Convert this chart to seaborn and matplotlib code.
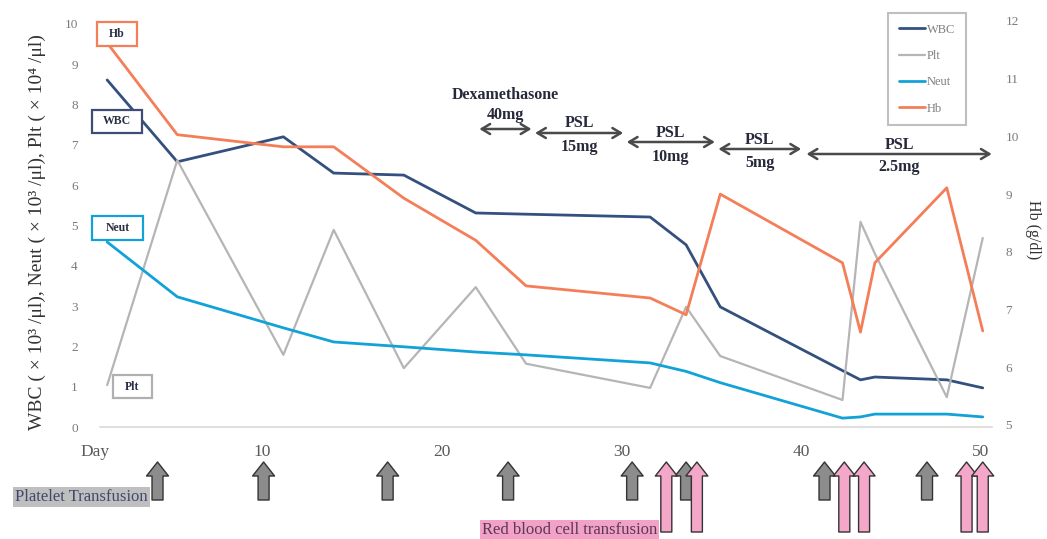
import matplotlib
matplotlib.use("Agg")
import matplotlib.pyplot as plt
import matplotlib.transforms as mtransforms
from matplotlib.patches import Rectangle
import pandas as pd
import seaborn as sns

# ---------------- data ----------------
days = [1.4, 5.3, 11.2, 14.0, 17.9, 21.9, 24.7, 31.6, 33.6, 35.5, 42.3, 43.3, 44.1, 48.1, 50.1]
wbc = [8.61, 6.58, 7.20, 6.30, 6.25, 5.31, 5.28, 5.21, 4.52, 2.98, 1.40, 1.17, 1.24, 1.17, 0.97]
plt_vals = [1.04, 6.62, 1.79, 4.89, 1.46, 3.47, 1.57, 0.97, 2.98, 1.76, 0.67, 5.09, 4.30, 0.74, 4.69]
neut = [4.59, 3.23, 2.46, 2.11, 1.99, 1.86, 1.79, 1.59, 1.38, 1.10, 0.22, 0.25, 0.32, 0.32, 0.25]
hb = [11.62, 10.03, 9.82, 9.82, 8.93, 8.20, 7.41, 7.20, 6.91, 9.00, 7.81, 6.61, 7.81, 9.11, 6.63]

series_names = ["WBC", "Plt", "Neut", "Hb"]
series_colors = ["#34507F", "#B5B5B5", "#12A2D8", "#F47E58"]

x_ticks = [0.7, 10, 20, 30, 40, 50]
x_ticklabels = ["Day", "10", "20", "30", "40", "50"]
left_ticks = list(range(0, 11))
right_ticks = list(range(5, 13))

platelet_tx_days = [4.2, 10.1, 17.0, 23.7, 30.6, 33.6, 41.3, 47.0]
rbc_tx_days = [32.5, 34.2, 42.4, 43.5, 49.2, 50.1]

drug_start = [22.1, 25.2, 30.3, 35.4, 40.3]
drug_end = [25.0, 30.1, 35.2, 40.0, 50.6]
drug_top = ["Dexamethasone", "PSL", "PSL", "PSL", "PSL"]
drug_dose = ["40mg", "15mg", "10mg", "5mg", "2.5mg"]

# ---------------- style ----------------
sns.set_theme(style="white")
plt.rcParams["font.family"] = ["Liberation Serif", "DejaVu Serif"]

W, H = 1047, 539
fig = plt.figure(figsize=(W / 100, H / 100), dpi=100)
fig.patch.set_facecolor("white")

ax = fig.add_axes([82 / W, (H - 427) / H, 918 / W, 423.2 / H])
ax2 = ax.twinx()

pix = mtransforms.Affine2D().scale(1 / W, -1 / H).translate(0, 1) + fig.transFigure
xblend = mtransforms.blended_transform_factory(ax.transData, pix)

df = pd.DataFrame({"day": days, "WBC": wbc, "Plt": plt_vals, "Neut": neut, "Hb": hb})

lw = {"WBC": 2.0, "Plt": 1.6, "Neut": 2.0, "Hb": 2.0}
handles = []
for name, col in zip(series_names, series_colors):
    target = ax2 if name == "Hb" else ax
    sns.lineplot(data=df, x="day", y=name, ax=target, color=col, lw=lw[name],
                 sort=False, legend=False, label=name)
    handles.append(target.get_lines()[-1])

ax.set_xlim(0, 51.06)
ax.set_ylim(0, 10.5)
ax2.set_ylim(4.965, 12.298)

ax.set_xticks(x_ticks)
ax.set_xticklabels(x_ticklabels)
ax.set_yticks(left_ticks)
ax2.set_yticks(right_ticks)
ax.set_xlabel("")
ax.set_ylabel("")
ax2.set_ylabel("")

ax.tick_params(axis="x", length=0, pad=12, labelsize=12.5, labelcolor="#595959")
ax.tick_params(axis="y", length=0, pad=3, labelsize=9.5, labelcolor="#7A7A7A")
ax2.tick_params(axis="y", length=0, pad=4, labelsize=9.5, labelcolor="#7A7A7A")

for a in (ax, ax2):
    for s in ("top", "right", "left", "bottom"):
        a.spines[s].set_visible(False)
    a.grid(False)
    a.patch.set_visible(False)
ax.spines["bottom"].set_visible(True)
ax.spines["bottom"].set_color("#D9D9D9")
ax.spines["bottom"].set_linewidth(1.2)
ax.spines["bottom"].set_bounds(1.0, 50.6)

# axis titles
fig.text(37 / W, 1 - 232 / H, "WBC ( × 10³ /μl), Neut ( × 10³ /μl), Plt ( × 10⁴ /μl)",
         rotation=90, ha="center", va="center", fontsize=14, color="#333333")
fig.text(1033 / W, 1 - 230 / H, "Hb (g/dl)", rotation=270, ha="center", va="center",
         fontsize=11.5, color="#333333")

# series label boxes
box_specs = {"Hb": (97, 22, 40, 24), "WBC": (92, 110, 50, 23),
             "Neut": (92, 216, 51, 24), "Plt": (113, 375, 39, 23)}
box_edge = {"WBC": "#3F4C75", "Plt": "#B0B0B0", "Neut": "#12A2D8", "Hb": "#F47E58"}
for name, (bx, by, bw, bh) in box_specs.items():
    fig.patches.append(Rectangle((bx, by), bw, bh, transform=pix, facecolor="white",
                                 edgecolor=box_edge[name], lw=1.6, zorder=5))
    fig.text(bx + bw / 2, by + bh / 2, name, transform=pix, ha="center", va="center",
             fontsize=8.5, fontweight="bold", color="#2A3045", zorder=6)

# legend
leg = fig.legend(handles, series_names, loc="upper left",
                 bbox_to_anchor=(888 / W, 1 - 13 / H), bbox_transform=fig.transFigure,
                 frameon=True, fancybox=False, edgecolor="#BFBFBF", framealpha=1,
                 fontsize=9, labelcolor="#7F7F7F", handlelength=2.1, handletextpad=0.15,
                 labelspacing=1.15, borderpad=0.85, borderaxespad=0)
leg.get_frame().set_linewidth(1.5)

# drug periods
arrow_y = [129, 133, 142, 149, 154]
top_y = [95, 123, 133, 140, 145]
dose_y = [115, 147, 157, 163, 167]
for s, e, t, d, ay, ty, dy in zip(drug_start, drug_end, drug_top, drug_dose, arrow_y, top_y, dose_y):
    ax.annotate("", xy=(e, ay), xytext=(s, ay), xycoords=xblend, textcoords=xblend,
                annotation_clip=False,
                arrowprops=dict(arrowstyle="<->,head_length=0.5,head_width=0.3",
                                color="#4A4A4A", lw=1.8, mutation_scale=12,
                                shrinkA=0, shrinkB=0))
    cx = (s + e) / 2
    ax.text(cx, ty, t, transform=xblend, ha="center", va="center", fontsize=11.5,
            fontweight="bold", color="#27293A", clip_on=False)
    ax.text(cx, dy, d, transform=xblend, ha="center", va="center", fontsize=11.5,
            fontweight="bold", color="#27293A", clip_on=False)

# transfusion arrows
def block_arrow(day, top, bottom, fc):
    ax.annotate("", xy=(day, top), xytext=(day, bottom), xycoords=xblend, textcoords=xblend,
                annotation_clip=False,
                arrowprops=dict(arrowstyle="simple,head_length=1.4,head_width=2.2,tail_width=1.1",
                                mutation_scale=7.2, fc=fc, ec="#333333", lw=1.0,
                                shrinkA=0, shrinkB=0))

for d in platelet_tx_days:
    block_arrow(d, 462, 500, "#8C8C8C")
for d in rbc_tx_days:
    block_arrow(d, 462, 532, "#F4A7C9")

fig.text(15 / W, 1 - 497 / H, "Platelet Transfusion", ha="left", va="center", fontsize=12,
         color="#3F4A6B", bbox=dict(boxstyle="square,pad=0.12", fc="#BFBFBF", ec="none"))
fig.text(482 / W, 1 - 530 / H, "Red blood cell transfusion", ha="left", va="center", fontsize=12,
         color="#5A3A55", bbox=dict(boxstyle="square,pad=0.12", fc="#F2A2C6", ec="none"))

fig.savefig("out.png", dpi=100)
